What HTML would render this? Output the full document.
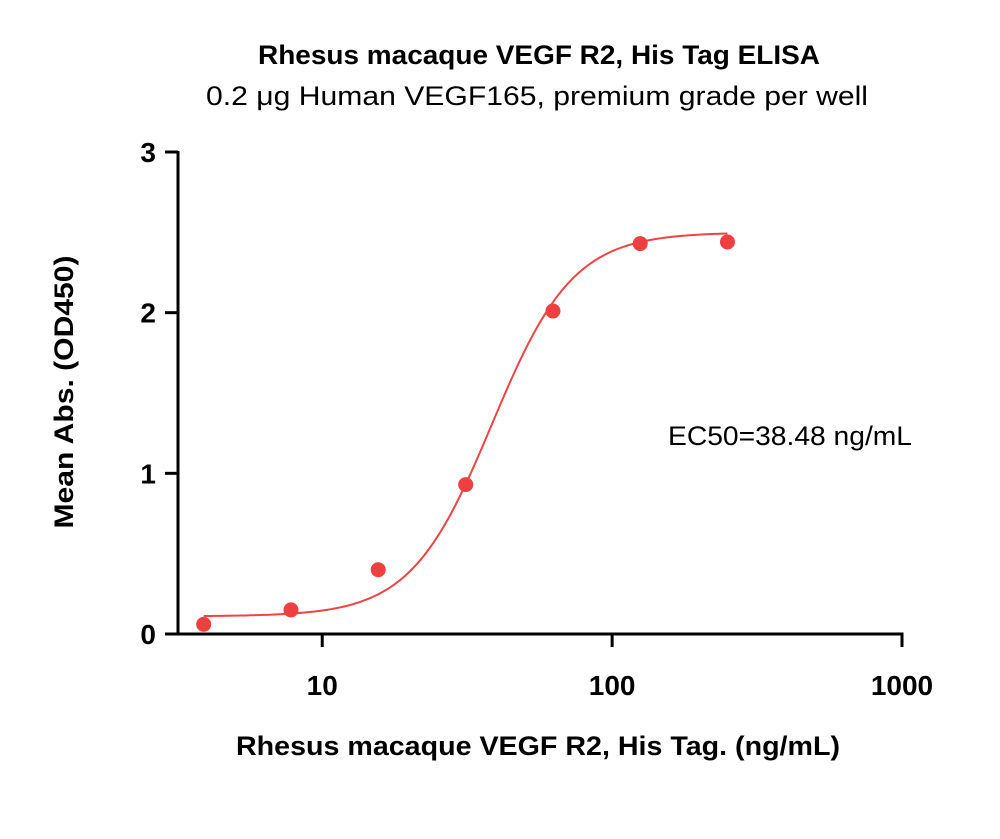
<!DOCTYPE html>
<html><head><meta charset="utf-8"><style>
html,body{margin:0;padding:0;background:#fff;}
svg{display:block;font-family:"Liberation Sans",sans-serif;}
</style></head><body>
<svg id="chart" width="1000" height="839" viewBox="0 0 1000 839">
<text x="539" y="64" text-anchor="middle" font-size="27" font-weight="bold" textLength="562" lengthAdjust="spacingAndGlyphs">Rhesus macaque VEGF R2, His Tag ELISA</text>
<text x="537" y="105" text-anchor="middle" font-size="27" textLength="662" lengthAdjust="spacingAndGlyphs">0.2 μg Human VEGF165, premium grade per well</text>
<text transform="translate(73,392) rotate(-90)" text-anchor="middle" font-size="27" font-weight="bold" textLength="273" lengthAdjust="spacingAndGlyphs">Mean Abs. (OD450)</text>
<text x="538" y="755" text-anchor="middle" font-size="27" font-weight="bold" textLength="604" lengthAdjust="spacingAndGlyphs">Rhesus macaque VEGF R2, His Tag. (ng/mL)</text>
<text x="790" y="445" text-anchor="middle" font-size="27" textLength="244" lengthAdjust="spacingAndGlyphs">EC50=38.48 ng/mL</text>
<g id="axes"></g>
<g id="marks"></g>
</svg>
<script>
const xConc=[3.9,7.8,15.6,31.25,62.5,125,250];
const yOD=[0.06,0.15,0.40,0.93,2.01,2.43,2.44];
const yTicks=[0,1,2,3];
const xTicks=[10,100,1000];
const fitBottom=0.11, fitTop=2.50, fitEC50=38.48, fitHill=3.1;
const X0=178,X1=902,Y0=634,Y1=152;
const LMIN=Math.log10(3.18),LMAX=3;
function sx(v){return X0+(Math.log10(v)-LMIN)/(LMAX-LMIN)*(X1-X0);}
function sy(v){return Y0-(v/3)*(Y0-Y1);}
const NS="http://www.w3.org/2000/svg";
function mk(t,a,p){const e=document.createElementNS(NS,t);for(const k in a)e.setAttribute(k,a[k]);p.appendChild(e);return e;}
const ax=document.getElementById('axes'),mg=document.getElementById('marks');
let l=mk('line',{x1:X0,y1:Y1-1,x2:X0,y2:Y0+1.5,stroke:'#000','stroke-width':3},ax);


l=mk('line',{x1:X0-1.5,y1:Y0,x2:X1+1.5,y2:Y0,stroke:'#000','stroke-width':3},ax);


yTicks.forEach(v=>{
 const t=mk('line',{x1:X0-13,y1:sy(v),x2:X0,y2:sy(v),stroke:'#000','stroke-width':3},ax);
 
 
 const tx=mk('text',{x:X0-22,y:sy(v)+10,'text-anchor':'end','font-size':28,'font-weight':'bold'},ax);
 tx.textContent=v;
 
 
});
xTicks.forEach(v=>{
 const t=mk('line',{x1:sx(v),y1:Y0,x2:sx(v),y2:Y0+13,stroke:'#000','stroke-width':3},ax);
 
 
 const tx=mk('text',{x:sx(v),y:Y0+61,'text-anchor':'middle','font-size':28,'font-weight':'bold'},ax);
 tx.textContent=v;
 
 
});
let d='';
for(let i=0;i<=200;i++){
 const lv=Math.log10(xConc[0])+i/200*(Math.log10(xConc[xConc.length-1])-Math.log10(xConc[0]));
 const c=Math.pow(10,lv);
 const y=fitBottom+(fitTop-fitBottom)/(1+Math.pow(fitEC50/c,fitHill));
 d+=(i?'L':'M')+sx(c).toFixed(2)+' '+sy(y).toFixed(2);
}
const p=mk('path',{d:d,fill:'none',stroke:'#ee4444','stroke-width':2},mg);


xConc.forEach((c,i)=>{
 const pt=mk('circle',{cx:sx(c),cy:sy(yOD[i]),r:7.5,fill:'#ee4040'},mg);
 
 
});
</script>
</body></html>
